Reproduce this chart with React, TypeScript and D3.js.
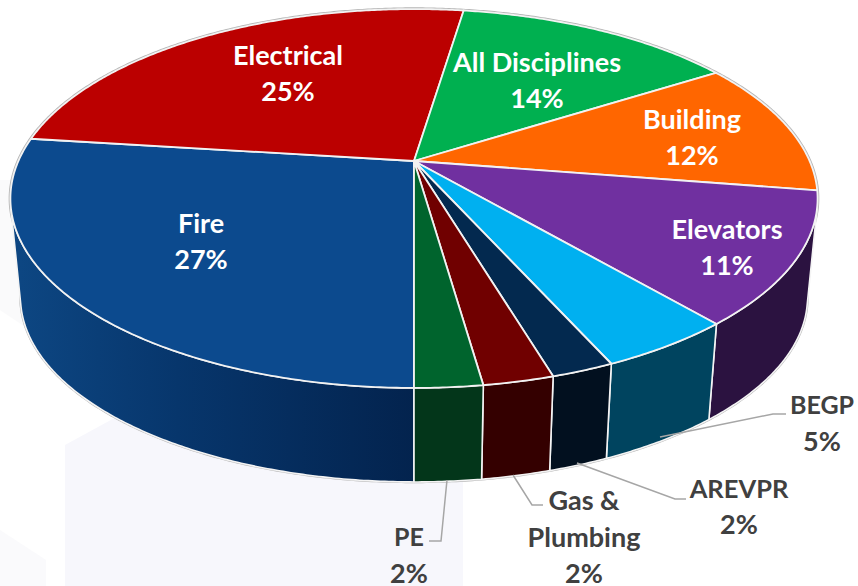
import React from "react";
import * as d3 from "d3";

// Slices in drawing order, clockwise from the front of the pie
const names = ["Fire", "Electrical", "All Disciplines", "Building", "Elevators", "BEGP", "AREVPR", "Gas & Plumbing", "PE"];
const shares = [27, 25.4, 13.6, 11.5, 11.25, 4.55, 2.1, 2.35, 2.25];
const topColors = ["#0c4a8e", "#bb0000", "#00b050", "#ff6600", "#7030a0", "#00b0f0", "#03294f", "#700000", "#00642d"];
const sideColors = ["url(#fireSide)", "#5e0000", "#005828", "#803300", "#2b1240", "#00445f", "#02101f", "#340000", "#03361a"];

const W = 858, H = 586;
// projection of the tilted disc
const CX = 414, CY = 161, RX = 395.6, RY = 182, PERSP = -0.198;
const SHRINK = 0.975, VANISH_Y = 4148;

type Lbl = { name: string; lines: string[]; x: number; y: number[]; color: string; capsSize?: number };
const WHITE = "#ffffff", GREY = "#404040";
const labels: Lbl[] = [
  { name: "Fire", lines: ["Fire"], x: 201, y: [233, 269], color: WHITE },
  { name: "Electrical", lines: ["Electrical"], x: 288, y: [65, 101], color: WHITE },
  { name: "All Disciplines", lines: ["All Disciplines"], x: 537, y: [72, 108], color: WHITE },
  { name: "Building", lines: ["Building"], x: 692, y: [129, 165], color: WHITE },
  { name: "Elevators", lines: ["Elevators"], x: 727, y: [239, 275], color: WHITE },
  { name: "BEGP", lines: ["BEGP"], x: 822, y: [414, 451], color: GREY, capsSize: 25 },
  { name: "AREVPR", lines: ["AREVPR"], x: 739, y: [498, 534], color: GREY, capsSize: 25.5 },
  { name: "Gas & Plumbing", lines: ["Gas &", "Plumbing"], x: 584, y: [510, 547, 583], color: GREY },
  { name: "PE", lines: ["PE"], x: 409, y: [546, 583], color: GREY, capsSize: 25 },
];

const leaders: [number, number][][] = [
  [[660, 437], [773, 414], [786, 414]],
  [[577, 463], [675, 499], [686, 499]],
  [[513, 475], [532, 505], [543, 505]],
  [[447, 480], [441, 541], [429, 541]],
];

const project = (phi: number, lower: boolean): [number, number] => {
  const X = -Math.sin(phi), Y = Math.cos(phi);
  const den = 1 + PERSP * Y;
  const x = CX + (RX * X) / den;
  const y = CY + (RY * Y) / den;
  if (!lower) return [x, y];
  return [CX + (x - CX) * SHRINK, VANISH_Y + (y - VANISH_Y) * SHRINK];
};

const DEG = Math.PI / 180;
const arcSamples = (a0: number, a1: number) => {
  const n = Math.max(2, Math.ceil((a1 - a0) / (DEG / 2)));
  return d3.range(n + 1).map((i) => a0 + ((a1 - a0) * i) / n);
};

// A point of the wall faces the viewer when the rim's direction and the wall's direction turn the same way as at the front.
const facesViewer = (phi: number) => {
  const e = DEG / 10;
  const a = project(phi - e, false), b = project(phi + e, false);
  const t = project(phi, false), l = project(phi, true);
  const cross = (b[0] - a[0]) * (l[1] - t[1]) - (b[1] - a[1]) * (l[0] - t[0]);
  return cross < 0;
};

const line = d3.line<[number, number]>();
const pie = d3.pie<number>().sort(null).value((d) => d).startAngle(0).endAngle(2 * Math.PI);

const pct = (v: number) => `${Math.round(v)}%`;

export default function App() {
  const arcs = pie(shares);
  const full = arcSamples(0, 2 * Math.PI);
  const topOutline = line(full.map((a) => project(a, false))) + "Z";
  const lowOutline = line(full.map((a) => project(a, true))) + "Z";
  return (
    <svg width={W} height={H} viewBox={`0 0 ${W} ${H}`} style={{ position: "absolute", left: 0, top: 0, background: "#fff" }}>
      <defs>
        <linearGradient id="fireSide" gradientUnits="userSpaceOnUse" x1={20} x2={414} y1={0} y2={0}>
          <stop offset="0" stopColor="#0d4682" />
          <stop offset="0.4" stopColor="#07366c" />
          <stop offset="1" stopColor="#03234e" />
        </linearGradient>
      </defs>
      {/* faint backdrop */}
      <path d="M65 445 L120 415 L463 415 L463 586 L65 586 Z" fill="#f7f7fc" />
      <path d="M0 180 L14 180 L30 330 L0 310 Z" fill="#fafafb" />
      <path d="M0 530 L46 560 L46 586 L0 586 Z" fill="#fafafc" />
      <path d={lowOutline} fill="#fff" stroke="#b5b5b5" strokeWidth={2.5} />
      <path d={topOutline} fill="#fff" stroke="#b5b5b5" strokeWidth={3.5} />
      {arcs.map((d, i) => {
        const samples = arcSamples(d.startAngle, d.endAngle).filter(facesViewer);
        if (samples.length < 2) return null;
        const pts = [
          ...samples.map((a) => project(a, false)),
          ...samples.slice().reverse().map((a) => project(a, true)),
        ];
        return <path key={"s" + i} d={line(pts) + "Z"} fill={sideColors[i]} stroke="#f4f4f4" strokeWidth={1.6} strokeLinejoin="round" />;
      })}
      {arcs.map((d, i) => {
        const pts: [number, number][] = [[CX, CY], ...arcSamples(d.startAngle, d.endAngle).map((a) => project(a, false))];
        return <path key={"t" + i} d={line(pts) + "Z"} fill={topColors[i]} stroke="#f2f2f2" strokeWidth={1.8} strokeLinejoin="round" />;
      })}
      {leaders.map((p, i) => (
        <path key={"l" + i} d={line(p) ?? ""} fill="none" stroke="#a6a6a6" strokeWidth={1.5} />
      ))}
      {labels.map((l) => {
        const value = shares[names.indexOf(l.name)];
        const rows = [...l.lines, pct(value)];
        return rows.map((t, j) => (
          <text key={l.name + j} x={l.x} y={l.y[j]} textAnchor="middle" fill={l.color} fontFamily="Lato, 'Open Sans', sans-serif" fontWeight={700} fontSize={j < l.lines.length && l.capsSize ? l.capsSize : 27}>
            {t}
          </text>
        ));
      })}
    </svg>
  );
}
